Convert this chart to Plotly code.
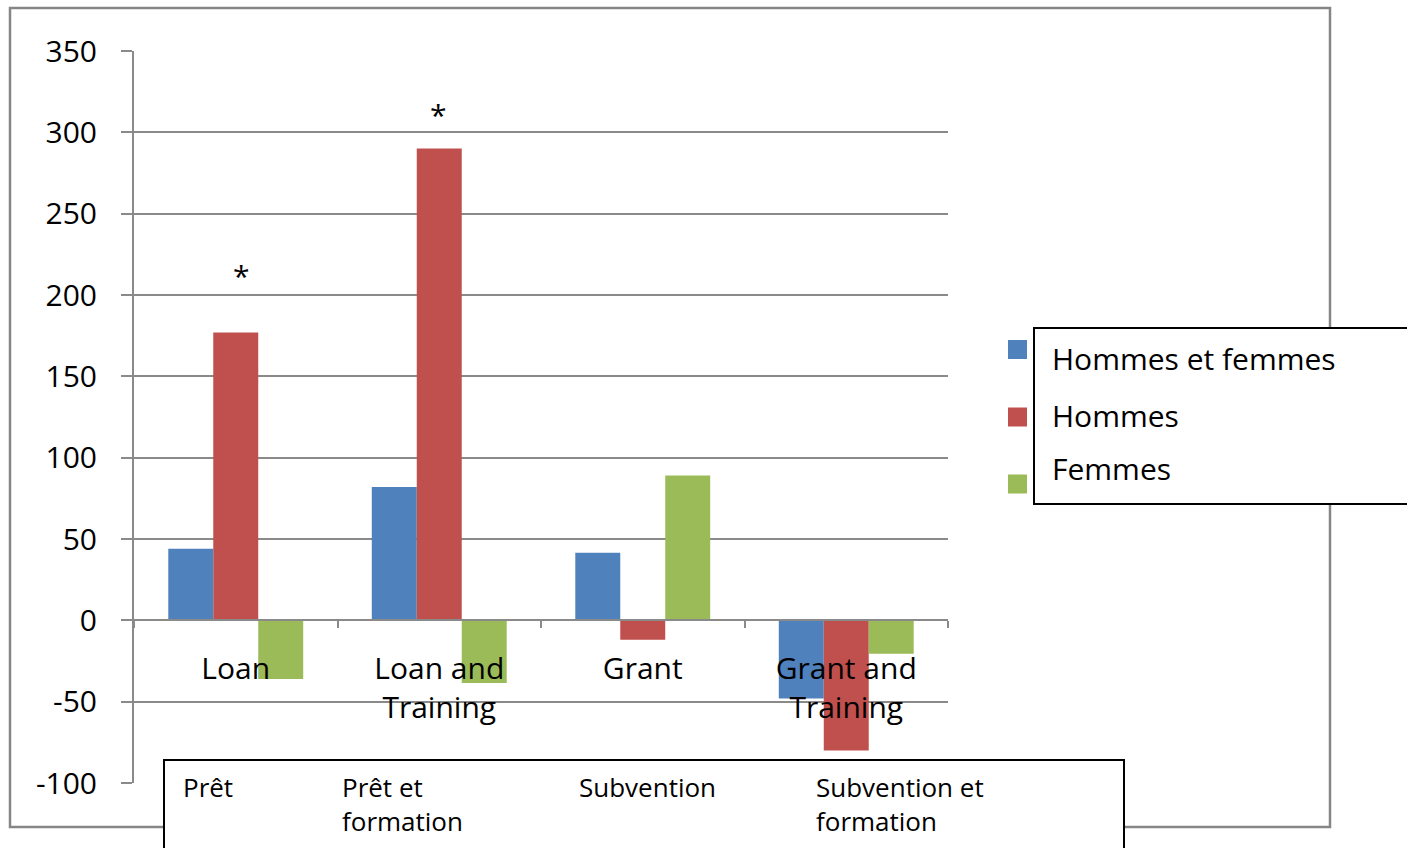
import plotly.graph_objects as go

# ---- data ----
categories = ["Loan", "Loan and<br>Training", "Grant", "Grant and<br>Training"]
series_names = ["Hommes et femmes", "Hommes", "Femmes"]
hommes_et_femmes = [44, 82, 41.5, -48]
hommes = [177, 290, -12, -80]
femmes = [-36, -38.5, 89, -20.5]
series_colors = ["#4F81BD", "#C0504D", "#9BBB59"]
significant = [True, True, False, False]      # asterisk above "Hommes" bar
star_levels = [212, 311]                       # y value of the asterisks
french_labels = ["Prêt", "Prêt et<br>formation", "Subvention", "Subvention et<br>formation"]
y_ticks = [-100, -50, 0, 50, 100, 150, 200, 250, 300, 350]
y_tick_labels = ["-100", "-50", "0", "50", "100", "150", "200", "250", "300", "350"]

W, H = 1407, 848
L, R = 134, 948          # plot area pixel edges
T, B = 51, 783

def px(x):  # pixel x -> paper
    return (x - L) / (R - L)

def py(y):  # pixel y -> paper
    return (B - y) / (B - T)

FONT = "Open Sans"
GRID = "#8a8a8a"

fig = go.Figure()
for name, vals, col in zip(series_names, [hommes_et_femmes, hommes, femmes], series_colors):
    fig.add_trace(go.Bar(x=categories, y=vals, name=name, marker=dict(color=col, line=dict(width=0)),
                         showlegend=False, hoverinfo="skip"))

shapes = []
annotations = []

# outer chart border
shapes.append(dict(type="rect", xref="paper", yref="paper", x0=px(10), x1=px(1330), y0=py(827), y1=py(8),
                   line=dict(color="#868686", width=2.5), fillcolor="rgba(0,0,0,0)", layer="below"))

# asterisks
star_shift = [6, -1]
si = 0
for c, s in zip(categories, significant):
    if s:
        annotations.append(dict(x=c, y=star_levels[si], xref="x", yref="y", text="*", showarrow=False,
                                xshift=star_shift[si], font=dict(family=FONT, size=30, color="#000"),
                                yanchor="middle"))
        si += 1

# legend: squares outside, box with text
leg_y = [349.5, 417, 484]
for name, col, yc in zip(series_names, series_colors, leg_y):
    shapes.append(dict(type="rect", xref="paper", yref="paper", x0=px(1008), x1=px(1027),
                       y0=py(yc + 9.5), y1=py(yc - 9.5), line=dict(width=0), fillcolor=col, layer="above"))
shapes.append(dict(type="rect", xref="paper", yref="paper", x0=px(1034), x1=px(1420), y0=py(504), y1=py(328),
                   line=dict(color="#000", width=2), fillcolor="#fff", layer="above"))
for name, yc in zip(series_names, [358, 415, 468]):
    annotations.append(dict(x=px(1050), y=py(yc), xref="paper", yref="paper", text=name, showarrow=False,
                            xanchor="left", yanchor="middle", font=dict(family=FONT, size=30, color="#000")))

# bottom French label box
shapes.append(dict(type="rect", xref="paper", yref="paper", x0=px(164), x1=px(1124), y0=py(860), y1=py(760),
                   line=dict(color="#000", width=2), fillcolor="#fff", layer="above"))
for lab, xl in zip(french_labels, [181, 340, 577, 814]):
    annotations.append(dict(x=px(xl), y=py(767), xref="paper", yref="paper", text=lab, showarrow=False,
                            xanchor="left", yanchor="top", align="left",
                            font=dict(family=FONT, size=26, color="#000")))

fig.update_layout(
    width=W, height=H, autosize=False,
    margin=dict(l=L, r=W - R, t=T, b=H - B, pad=0),
    paper_bgcolor="#fff", plot_bgcolor="#fff",
    barmode="group", bargap=0.337, bargroupgap=0,
    font=dict(family=FONT, size=30, color="#000"),
    shapes=shapes, annotations=annotations,
    xaxis=dict(type="category", range=[-0.5, 3.5], showgrid=False, zeroline=False,
               showline=True, linecolor=GRID, linewidth=2,
               anchor="free", position=100 / 450,
               ticks="outside", tickson="boundaries", ticklen=7, tickwidth=2, tickcolor=GRID,
               ticklabelstandoff=22, tickfont=dict(family=FONT, size=30, color="#000")),
    yaxis=dict(range=[-100, 350], tickvals=y_ticks, ticktext=y_tick_labels,
               showgrid=True, gridcolor=GRID, gridwidth=2,
               zeroline=False, showline=True, linecolor=GRID, linewidth=2,
               ticks="outside", ticklen=11, tickwidth=2, tickcolor=GRID,
               ticklabelstandoff=18, tickfont=dict(family=FONT, size=30, color="#000")),
)

fig.write_html("out.html", config={"displayModeBar": False},
               post_script="document.body.style.margin='0';document.body.style.overflow='hidden';")
